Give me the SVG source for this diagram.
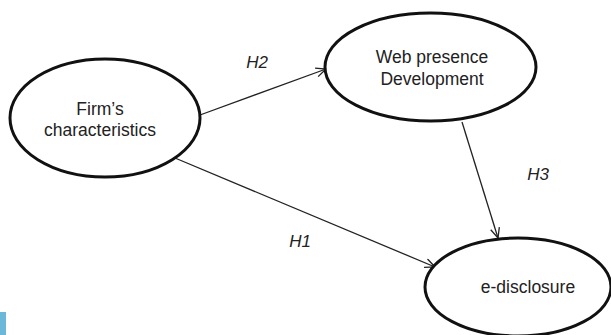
<svg xmlns="http://www.w3.org/2000/svg" width="611" height="335" viewBox="0 0 611 335">
  <style>
    .node { fill: #ffffff; stroke: #111111; stroke-width: 3; }
    .label { font-family: "Liberation Sans", Arial, sans-serif; font-size: 17.5px; fill: #222222; text-anchor: middle; }
    .hyp { font-family: "Liberation Sans", Arial, sans-serif; font-size: 17px; font-style: italic; fill: #222222; text-anchor: middle; }
    .edge { stroke: #222222; stroke-width: 1.3; fill: none; marker-end: url(#arrow); }
  </style>
  <defs>
    <marker id="arrow" markerUnits="userSpaceOnUse" markerWidth="14" markerHeight="12" refX="11" refY="5" orient="auto">
      <path d="M1,0.5 L11,5 L1,9.5" fill="none" stroke="#222222" stroke-width="1.3"/>
    </marker>
  </defs>

  <rect width="611" height="335" fill="#ffffff"/>
  <!-- side tab -->
  <rect x="0" y="312" width="6" height="23" fill="#6bb8d8"/>

  <g id="connectors">
    <line class="edge" x1="200" y1="115" x2="326" y2="69"/>
    <line class="edge" x1="175" y1="158" x2="435" y2="267"/>
    <line class="edge" x1="462" y1="122" x2="498" y2="238"/>
    <text class="hyp" x="257" y="68">H2</text>
    <text class="hyp" x="300" y="247">H1</text>
    <text class="hyp" x="538" y="180">H3</text>
  </g>

  <g id="firm">
    <ellipse class="node" cx="105" cy="118" rx="95" ry="59"/>
    <text class="label" x="100" y="115">Firm’s</text>
    <text class="label" x="100" y="136">characteristics</text>
  </g>

  <g id="web">
    <ellipse class="node" cx="430.5" cy="67" rx="105.5" ry="54"/>
    <text class="label" x="432" y="63">Web presence</text>
    <text class="label" x="432" y="85">Development</text>
  </g>

  <g id="edisclosure">
    <ellipse class="node" cx="518" cy="287" rx="93" ry="49"/>
    <text class="label" x="528" y="293">e-disclosure</text>
  </g>
</svg>
